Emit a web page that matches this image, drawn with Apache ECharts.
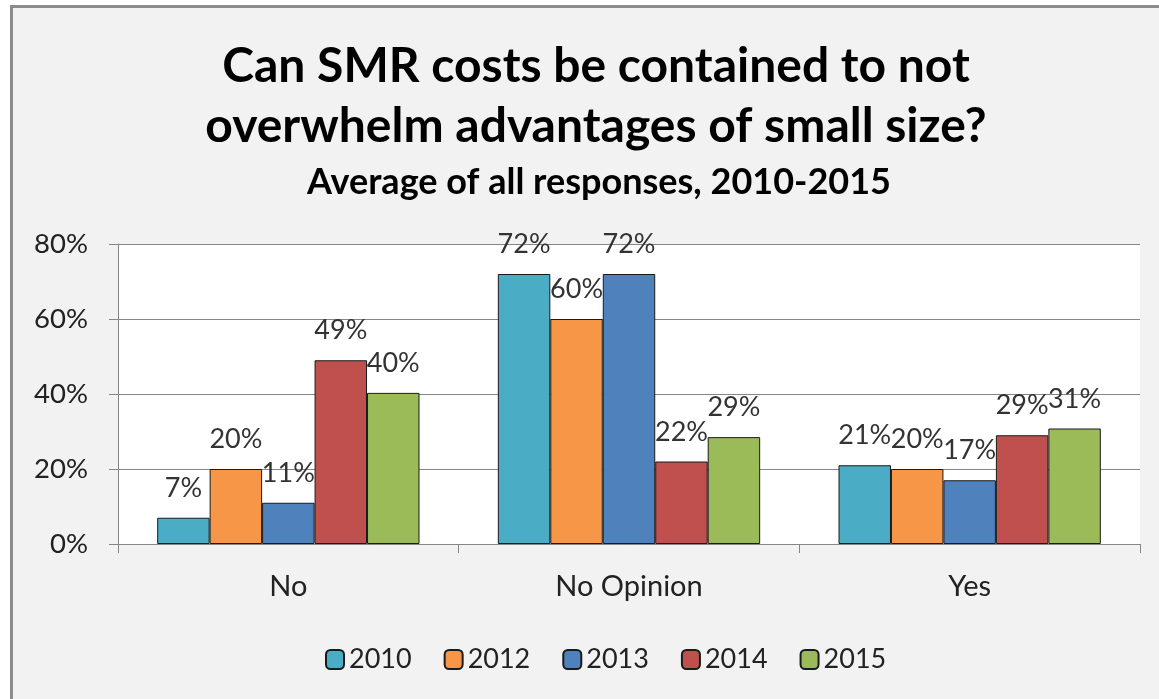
<!DOCTYPE html>
<html>
<head>
<meta charset="utf-8">
<script src="https://cdn.jsdelivr.net/npm/echarts@6/dist/echarts.min.js"></script>
<style>
html,body{margin:0;padding:0;background:#fff;}
#chart{width:1159px;height:699px;}
</style>
</head>
<body>
<div id="chart"></div>
<script>
const categories = ['No', 'No Opinion', 'Yes'];
const seriesNames = ['2010', '2012', '2013', '2014', '2015'];
const v2010 = [7, 72, 21];
const v2012 = [20, 60, 20];
const v2013 = [11, 72, 17];
const v2014 = [49, 22, 29];
const v2015 = [40.3, 28.5, 30.8];
const seriesValues = [v2010, v2012, v2013, v2014, v2015];
const colors = ['#4BACC6', '#F79646', '#4F81BD', '#C0504D', '#9BBB59'];
const yTicks = [0, 20, 40, 60, 80];

const FONT = 'Lato, "Open Sans", sans-serif';
const chart = echarts.init(document.getElementById('chart'));
chart.setOption({
  backgroundColor: '#ffffff',
  animation: false,
  textStyle: { fontFamily: FONT },
  graphic: [{
    type: 'rect', z: -100,
    shape: { x: 11.5, y: 6.5, width: 1300, height: 900 },
    style: { fill: '#f2f2f2', stroke: '#8c8c8c', lineWidth: 3 }
  }],
  title: [{
    text: 'Can SMR costs be contained to not\noverwhelm advantages of small size?',
    left: 591, textAlign: 'center', top: 32,
    textStyle: { fontFamily: FONT, fontSize: 48, fontWeight: 'bold', color: '#000', lineHeight: 60 }
  }, {
    text: 'Average of all responses, 2010-2015',
    left: 594, textAlign: 'center', top: 157,
    textStyle: { fontFamily: FONT, fontSize: 36, fontWeight: 'bold', color: '#000', lineHeight: 40 }
  }],
  legend: {
    top: 641, left: 320,
    itemWidth: 18, itemHeight: 19, itemGap: 32,
    textStyle: { fontFamily: FONT, fontSize: 27, color: '#222', lineHeight: 27 },
    data: seriesNames
  },
  grid: {
    left: 118, right: 19, top: 244, bottom: 155,
    show: true, backgroundColor: '#ffffff', borderWidth: 0
  },
  xAxis: {
    type: 'category', data: categories,
    axisLine: { lineStyle: { color: '#868686', width: 1 } },
    axisTick: { show: true, length: 9, lineStyle: { color: '#868686' } },
    axisLabel: { fontFamily: FONT, fontSize: 29, color: '#222', margin: 28 }
  },
  yAxis: {
    type: 'value', min: yTicks[0], max: yTicks[yTicks.length - 1], interval: 20,
    axisLine: { show: true, lineStyle: { color: '#868686', width: 1 } },
    axisTick: { show: true, length: 9, lineStyle: { color: '#868686' } },
    splitLine: { lineStyle: { color: '#868686', width: 1 } },
    axisLabel: { fontFamily: FONT, fontSize: 27.5, color: '#222', margin: 30, formatter: '{value}%' }
  },
  series: seriesNames.map((name, i) => ({
    name: name, type: 'bar',
    data: seriesValues[i],
    barGap: '0%', barCategoryGap: '23%',
    itemStyle: { color: colors[i], borderColor: '#1a1a1a', borderWidth: 1 },
    label: {
      show: true, position: 'top', distance: 16,
      fontFamily: FONT, fontSize: 27, color: '#333',
      formatter: p => Math.round(p.value) + '%'
    }
  }))
});
</script>
</body>
</html>
